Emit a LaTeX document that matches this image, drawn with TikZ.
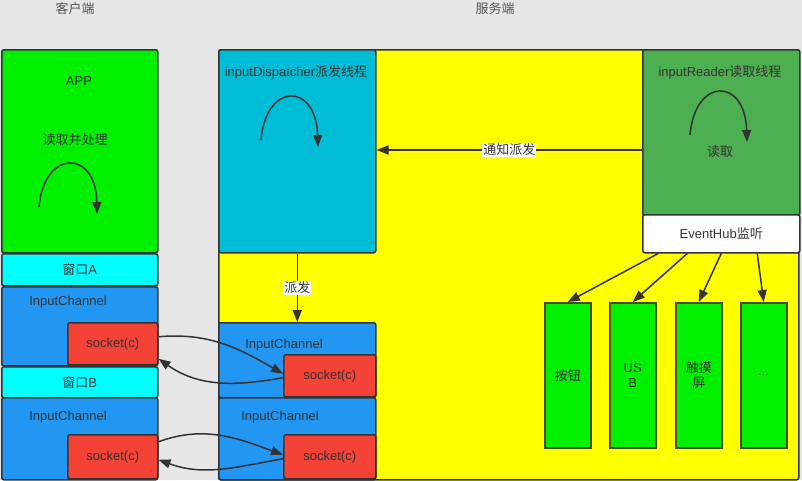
\documentclass[tikz,border=0pt]{standalone}
\usepackage{fontspec}
\setmainfont{Liberation Sans}
\newfontfamily\cjk{Noto Sans CJK SC}
\usepackage{tikz}
\usetikzlibrary{arrows.meta}

\definecolor{bggray}{HTML}{E6E6E6}
\definecolor{linegray}{HTML}{333333}
\definecolor{textgray}{HTML}{333333}
\definecolor{titlegray}{HTML}{555555}
\definecolor{appgreen}{HTML}{00F000}
\definecolor{wincyan}{HTML}{00FFFF}
\definecolor{chblue}{HTML}{2196F3}
\definecolor{sockred}{HTML}{F44336}
\definecolor{dispblue}{HTML}{00BCD4}
\definecolor{readgreen}{HTML}{4CAF50}
\definecolor{serveryellow}{HTML}{FFFF00}
\definecolor{devline}{HTML}{4A4A20}

\tikzset{
	txt/.style={text=textgray, font=\fontsize{13}{15}\selectfont, inner sep=1pt},
	box/.style={txt, draw=linegray, line width=1.5pt, rounded corners=2pt, anchor=north west, inner sep=0pt},
	dev/.style={txt, draw=devline, line width=1.5pt, fill=appgreen, anchor=north west, inner sep=0pt, minimum width=46pt, minimum height=145pt, align=center},
	arr/.style={draw=linegray, line width=1.5pt, -{Triangle[length=12pt,width=9pt]}},
	lbl/.style={txt, fill=white, inner sep=1pt},
}

\begin{document}
\begin{tikzpicture}[x=1pt, y=-1pt]
		\fill[bggray] (0,0) rectangle (802,480);
		\useasboundingbox (0,0) rectangle (802,480);
		\node[txt, text=titlegray] (clienttitle) at (75,9) {\cjk 客户端};
		\node[txt, text=titlegray] (servertitle) at (495,9) {\cjk 服务端};
		% client side
		\node[box, fill=appgreen, minimum width=156pt, minimum height=203pt] (app) at (1,49) {};
		\node[txt] (apptitle) at (79,81) {APP};
		\node[txt] (apptext) at (75,140) {\cjk 读取并处理};
		\draw[arr] (39,207) .. controls (44,149) and (96,149) .. (97,214);
		\node[box, fill=wincyan, minimum width=156pt, minimum height=32pt] (winA) at (1,253) {{\cjk 窗口}A};
		\node[box, fill=chblue, minimum width=156pt, minimum height=79pt] (chA) at (1,286) {};
		\node[txt] (chAtext) at (68,302) {InputChannel};
		\node[box, fill=sockred, minimum width=90pt, minimum height=42pt] (sockA) at (67,322) {socket(c)};
		\node[box, fill=wincyan, minimum width=156pt, minimum height=31pt] (winB) at (1,366) {{\cjk 窗口}B};
		\node[box, fill=chblue, minimum width=156pt, minimum height=82pt] (chB) at (1,397) {};
		\node[txt] (chBtext) at (68,417) {InputChannel};
		\node[box, fill=sockred, minimum width=90pt, minimum height=44pt] (sockB) at (67,434) {socket(c)};
		% server side
		\node[box, fill=serveryellow, minimum width=580pt, minimum height=430pt] (server) at (218,49) {};
		\node[box, fill=dispblue, minimum width=157pt, minimum height=203pt] (disp) at (218,49) {};
		\node[txt] (disptitle) at (296,72) {inputDispatcher{\cjk 派发线程}};
		\draw[arr] (261,140) .. controls (266,82) and (316,82) .. (318,147);
		\node[box, fill=readgreen, minimum width=157pt, minimum height=166pt] (reader) at (642,49) {};
		\node[txt] (readtitle) at (720,72) {inputReader{\cjk 读取线程}};
		\draw[arr] (690,135) .. controls (695,77) and (745,77) .. (747,142);
		\node[txt] (readtext) at (720,152) {\cjk 读取};
		\node[box, fill=white, minimum width=157pt, minimum height=38pt] (hub) at (642,214) {EventHub{\cjk 监听}};
		\node[box, fill=chblue, minimum width=157pt, minimum height=75pt] (chS1) at (218,322) {};
		\node[txt] (chS1text) at (284,345) {InputChannel};
		\node[box, fill=sockred, minimum width=92pt, minimum height=42pt] (sockS1) at (283,354) {socket(c)};
		\node[box, fill=chblue, minimum width=157pt, minimum height=82pt] (chS2) at (218,397) {};
		\node[txt] (chS2text) at (280,417) {InputChannel};
		\node[box, fill=sockred, minimum width=92pt, minimum height=44pt] (sockS2) at (283,434) {socket(c)};
		\foreach \name/\x/\t in {btn/544/{\cjk 按钮}, usb/609/{US\\B}, touch/675/{\cjk 触摸\\\cjk 屏}, more/740/{...}}
			\node[dev] (\name) at (\x,302) {\t};
		% connectors
		\coordinate (notify) at (508,150);
		\draw[arr] (notify -| reader.west) -- node[lbl]{\cjk 通知派发} (notify -| disp.east);
		\draw[arr] (disp.south) -- node[lbl]{\cjk 派发} (chS1.north);
		\draw[arr] ([xshift=-63pt]hub.south) -- (btn.north);
		\draw[arr] ([xshift=-34pt]hub.south) -- (usb.north);
		\draw[arr] (hub.south) -- (touch.north);
		\draw[arr] ([xshift=36pt]hub.south) -- (more.north);
		\draw[arr] ([yshift=7pt]sockA.east) to[out=5, in=150] ([yshift=2pt]sockS1.west);
		\draw[arr] ([yshift=-2pt]sockS1.west) to[out=190, in=-35] ([yshift=-15pt]sockA.east);
		\draw[arr] ([yshift=15pt]sockB.east) to[out=20, in=160] ([yshift=2pt]sockS2.west);
		\draw[arr] ([yshift=-2pt]sockS2.west) to[out=190, in=-20] ([yshift=-3pt]sockB.east);
\end{tikzpicture}
\end{document}
